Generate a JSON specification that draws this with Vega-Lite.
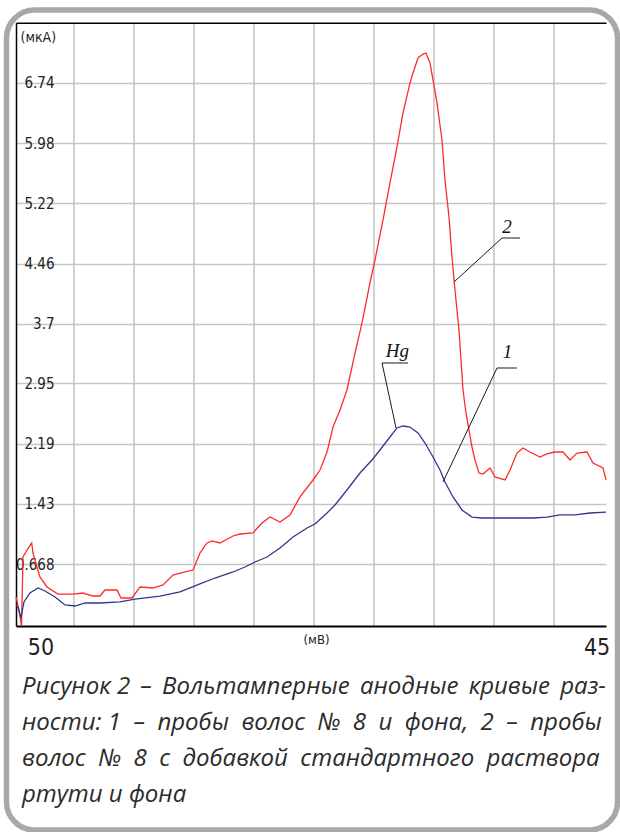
{
  "$schema": "https://vega.github.io/schema/vega-lite/v6.json",
  "width": 611,
  "height": 820,
  "autosize": {"type": "none"},
  "padding": {"left": 6.5, "top": 10, "right": 2.5, "bottom": 2},
  "background": "white",
  "config": {
    "view": {"stroke": "#a8a8a8", "strokeWidth": 5.5, "cornerRadius": 28, "fill": "white"}
  },
  "title": {
    "text": ["Рисунок 2 \u2006– \u2006Вольтамперные \u2006анодные \u2006кривые \u2006раз-", "ности: 1 \u00a0– \u00a0пробы \u00a0волос \u00a0№ \u00a08 \u00a0и \u00a0фона, \u00a02 \u00a0– \u00a0пробы", "волос \u00a0№ \u00a08 \u00a0с \u00a0добавкой \u00a0стандартного \u00a0раствора", "ртути и фона"],
    "orient": "bottom",
    "anchor": "start",
    "frame": "group",
    "offset": -155,
    "dx": 15.5,
    "font": "Open Sans",
    "fontSize": 24,
    "fontStyle": "italic",
    "fontWeight": "normal",
    "color": "#2b2b2b",
    "lineHeight": 36,
    "baseline": "top"
  },
  "datasets": {
    "curves": [
      {"c":"2","e":0.032,"i":0.256},{"c":"2","e":0.082,"i":0.092},{"c":"2","e":0.124,"i":-0.11},{"c":"2","e":0.149,"i":0.760},{"c":"2","e":0.215,"i":0.848},{"c":"2","e":0.294,"i":0.937},{"c":"2","e":0.316,"i":0.810},{"c":"2","e":0.382,"i":0.634},{"c":"2","e":0.432,"i":0.508},{"c":"2","e":0.549,"i":0.382},{"c":"2","e":0.733,"i":0.293},{"c":"2","e":0.983,"i":0.293},{"c":"2","e":1.150,"i":0.306},{"c":"2","e":1.317,"i":0.268},{"c":"2","e":1.434,"i":0.268},{"c":"2","e":1.517,"i":0.344},{"c":"2","e":1.718,"i":0.344},{"c":"2","e":1.785,"i":0.243},{"c":"2","e":1.968,"i":0.243},{"c":"2","e":2.102,"i":0.382},{"c":"2","e":2.319,"i":0.369},{"c":"2","e":2.486,"i":0.407},{"c":"2","e":2.653,"i":0.533},{"c":"2","e":2.853,"i":0.571},{"c":"2","e":2.987,"i":0.596},{"c":"2","e":3.103,"i":0.810},{"c":"2","e":3.220,"i":0.937},{"c":"2","e":3.304,"i":0.962},{"c":"2","e":3.437,"i":0.937},{"c":"2","e":3.654,"i":1.025},{"c":"2","e":3.771,"i":1.050},{"c":"2","e":3.988,"i":1.063},{"c":"2","e":4.138,"i":1.189},{"c":"2","e":4.272,"i":1.264},{"c":"2","e":4.439,"i":1.201},{"c":"2","e":4.606,"i":1.290},{"c":"2","e":4.773,"i":1.517},{"c":"2","e":4.990,"i":1.731},{"c":"2","e":5.107,"i":1.857},{"c":"2","e":5.224,"i":2.084},{"c":"2","e":5.324,"i":2.399},{"c":"2","e":5.441,"i":2.614},{"c":"2","e":5.557,"i":2.866},{"c":"2","e":5.691,"i":3.332},{"c":"2","e":5.808,"i":3.711},{"c":"2","e":5.941,"i":4.215},{"c":"2","e":6.025,"i":4.505},{"c":"2","e":6.158,"i":5.009},{"c":"2","e":6.275,"i":5.476},{"c":"2","e":6.392,"i":5.930},{"c":"2","e":6.492,"i":6.358},{"c":"2","e":6.609,"i":6.737},{"c":"2","e":6.659,"i":6.863},{"c":"2","e":6.743,"i":7.052},{"c":"2","e":6.826,"i":7.102},{"c":"2","e":6.876,"i":7.115},{"c":"2","e":6.943,"i":6.989},{"c":"2","e":6.993,"i":6.775},{"c":"2","e":7.060,"i":6.485},{"c":"2","e":7.143,"i":6.018},{"c":"2","e":7.193,"i":5.514},{"c":"2","e":7.260,"i":5.047},{"c":"2","e":7.310,"i":4.543},{"c":"2","e":7.360,"i":4.127},{"c":"2","e":7.427,"i":3.622},{"c":"2","e":7.494,"i":2.866},{"c":"2","e":7.544,"i":2.576},{"c":"2","e":7.594,"i":2.361},{"c":"2","e":7.644,"i":2.147},{"c":"2","e":7.694,"i":1.983},{"c":"2","e":7.761,"i":1.819},{"c":"2","e":7.828,"i":1.807},{"c":"2","e":7.945,"i":1.882},{"c":"2","e":8.028,"i":1.769},{"c":"2","e":8.195,"i":1.731},{"c":"2","e":8.279,"i":1.857},{"c":"2","e":8.395,"i":2.071},{"c":"2","e":8.496,"i":2.134},{"c":"2","e":8.612,"i":2.084},{"c":"2","e":8.779,"i":2.021},{"c":"2","e":8.896,"i":2.059},{"c":"2","e":9.030,"i":2.084},{"c":"2","e":9.163,"i":2.084},{"c":"2","e":9.280,"i":1.983},{"c":"2","e":9.397,"i":2.071},{"c":"2","e":9.564,"i":2.084},{"c":"2","e":9.664,"i":1.945},{"c":"2","e":9.831,"i":1.882},{"c":"2","e":9.881,"i":1.731},
      {"c":"1","e":0.032,"i":0.155},{"c":"1","e":0.065,"i":0.130},{"c":"1","e":0.115,"i":-0.009},{"c":"1","e":0.165,"i":0.193},{"c":"1","e":0.265,"i":0.306},{"c":"1","e":0.399,"i":0.369},{"c":"1","e":0.516,"i":0.331},{"c":"1","e":0.683,"i":0.256},{"c":"1","e":0.850,"i":0.155},{"c":"1","e":1.017,"i":0.142},{"c":"1","e":1.184,"i":0.180},{"c":"1","e":1.434,"i":0.180},{"c":"1","e":1.768,"i":0.193},{"c":"1","e":2.018,"i":0.230},{"c":"1","e":2.436,"i":0.268},{"c":"1","e":2.770,"i":0.319},{"c":"1","e":3.103,"i":0.420},{"c":"1","e":3.354,"i":0.495},{"c":"1","e":3.654,"i":0.571},{"c":"1","e":3.855,"i":0.634},{"c":"1","e":4.022,"i":0.697},{"c":"1","e":4.222,"i":0.760},{"c":"1","e":4.439,"i":0.873},{"c":"1","e":4.656,"i":1.012},{"c":"1","e":4.890,"i":1.126},{"c":"1","e":5.023,"i":1.176},{"c":"1","e":5.224,"i":1.315},{"c":"1","e":5.357,"i":1.416},{"c":"1","e":5.557,"i":1.605},{"c":"1","e":5.774,"i":1.819},{"c":"1","e":5.975,"i":1.983},{"c":"1","e":6.108,"i":2.109},{"c":"1","e":6.275,"i":2.273},{"c":"1","e":6.392,"i":2.387},{"c":"1","e":6.492,"i":2.412},{"c":"1","e":6.609,"i":2.399},{"c":"1","e":6.743,"i":2.324},{"c":"1","e":6.860,"i":2.197},{"c":"1","e":6.993,"i":2.021},{"c":"1","e":7.110,"i":1.857},{"c":"1","e":7.193,"i":1.706},{"c":"1","e":7.327,"i":1.517},{"c":"1","e":7.477,"i":1.353},{"c":"1","e":7.644,"i":1.264},{"c":"1","e":7.811,"i":1.252},{"c":"1","e":8.112,"i":1.252},{"c":"1","e":8.662,"i":1.252},{"c":"1","e":8.896,"i":1.264},{"c":"1","e":9.113,"i":1.290},{"c":"1","e":9.364,"i":1.290},{"c":"1","e":9.614,"i":1.315},{"c":"1","e":9.881,"i":1.327}
    ],
    "leaders": [
      {"e":7.344,"i":4.228,"e2":8.145,"i2":4.782},
      {"e":8.145,"i":4.782,"e2":8.446,"i2":4.782},
      {"e":6.376,"i":2.387,"e2":6.142,"i2":3.206},
      {"e":6.142,"i":3.206,"e2":6.576,"i2":3.206},
      {"e":7.160,"i":1.706,"e2":8.062,"i2":3.143},
      {"e":8.062,"i":3.143,"e2":8.395,"i2":3.143}
    ],
    "labels": [
      {"e":8.229,"i":4.845,"t":"2"},
      {"e":6.400,"i":3.282,"t":"Hg"},
      {"e":8.238,"i":3.269,"t":"1"}
    ]
  },
  "resolve": {"axis": {"x": "independent"}},
  "layer": [
    {
      "data": {"name": "curves"},
      "mark": {"type": "line", "strokeWidth": 1.3},
      "encoding": {
        "x": {
          "field": "e", "type": "quantitative",
          "scale": {"domain": [0.032, 9.881], "range": [9.5, 599.5], "nice": false, "zero": false},
          "axis": {
            "orient": "top",
            "offset": -12.7,
            "values": [1, 2, 3, 4, 5, 6, 7, 8, 9],
            "labels": false,
            "ticks": false,
            "tickSize": 0,
            "domain": true,
            "domainColor": "#000000",
            "domainWidth": 1.5,
            "grid": true,
            "gridColor": "#c6c6c6",
            "gridWidth": 1.6,
            "title": null
          }
        },
        "y": {
          "field": "i", "type": "quantitative",
          "scale": {"domain": [-0.11, 7.497], "range": [616, 12.7], "nice": false, "zero": false},
          "axis": {
            "orient": "left",
            "offset": -9.5,
            "values": [0.668, 1.43, 2.19, 2.95, 3.7, 4.46, 5.22, 5.98, 6.74],
            "labelExpr": "'' + datum.value",
            "labelOverlap": false,
            "labelFlush": false,
            "labelBound": false,
            "labelFont": "Liberation Sans Narrow, Arial Narrow, DejaVu Sans Condensed, sans-serif",
            "labelFontSize": 15,
            "labelColor": "#222222",
            "labelBaseline": "middle",
            "labelAlign": "right",
            "labelPadding": -38,
            "ticks": false,
            "tickSize": 0,
            "domain": true,
            "domainColor": "#000000",
            "domainWidth": 1.5,
            "grid": true,
            "gridColor": "#c6c6c6",
            "gridWidth": 1.6,
            "title": "(мкА)",
            "titleAngle": 0,
            "titleX": 4,
            "titleY": 27,
            "titleAlign": "left",
            "titleBaseline": "middle",
            "titleFont": "Liberation Sans Narrow, Arial Narrow, DejaVu Sans Condensed, sans-serif",
            "titleFontSize": 14,
            "titleFontWeight": "normal",
            "titleColor": "#222222"
          }
        },
        "color": {
          "field": "c", "type": "nominal",
          "scale": {"domain": ["2", "1"], "range": ["#ff2b2b", "#353590"]},
          "legend": null
        }
      }
    },
    {
      "data": {"name": "leaders"},
      "mark": {"type": "rule", "color": "#1a1a1a", "strokeWidth": 1},
      "encoding": {
        "x": {
          "field": "e", "type": "quantitative",
          "scale": {"domain": [0.032, 9.881], "range": [9.5, 599.5], "nice": false, "zero": false},
          "axis": {
            "orient": "bottom",
            "offset": -204,
            "values": [0.441, 9.723],
            "labelExpr": "datum.value < 0.5 ? '50' : '45'",
            "labelOverlap": false,
            "labelFlush": false,
            "labelBound": false,
            "labelFont": "Liberation Sans Narrow, Arial Narrow, DejaVu Sans Condensed, sans-serif",
            "labelFontSize": 23,
            "labelColor": "#222222",
            "labelBaseline": "middle",
            "labelAlign": "center",
            "labelPadding": 21,
            "ticks": false,
            "tickSize": 0,
            "domain": true,
            "domainColor": "#000000",
            "domainWidth": 2,
            "grid": false,
            "title": "(мВ)",
            "titleX": 309.5,
            "titleY": 13,
            "titleAlign": "center",
            "titleBaseline": "middle",
            "titleFont": "Liberation Sans Narrow, Arial Narrow, DejaVu Sans Condensed, sans-serif",
            "titleFontSize": 13,
            "titleFontWeight": "normal",
            "titleColor": "#222222"
          }
        },
        "x2": {"field": "e2"},
        "y": {"field": "i", "type": "quantitative", "scale": {"domain": [-0.11, 7.497], "range": [616, 12.7], "nice": false, "zero": false}},
        "y2": {"field": "i2"}
      }
    },
    {
      "data": {"name": "labels"},
      "mark": {"type": "text", "font": "Liberation Serif", "fontStyle": "italic", "fontSize": 19, "color": "#111111", "align": "center", "baseline": "alphabetic"},
      "encoding": {
        "x": {"field": "e", "type": "quantitative", "scale": {"domain": [0.032, 9.881], "range": [9.5, 599.5], "nice": false, "zero": false}, "axis": null},
        "y": {"field": "i", "type": "quantitative", "scale": {"domain": [-0.11, 7.497], "range": [616, 12.7], "nice": false, "zero": false}},
        "text": {"field": "t"}
      }
    }
  ]
}
